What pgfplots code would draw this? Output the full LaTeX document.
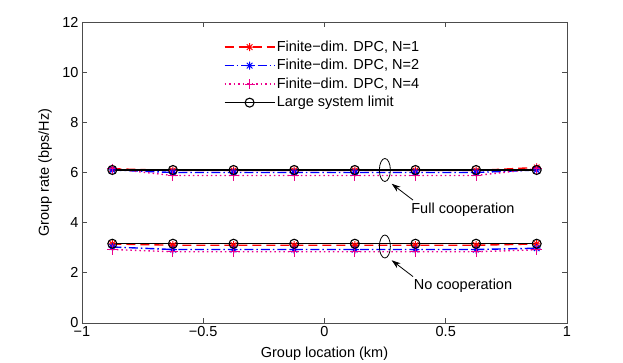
\documentclass[border=0pt]{standalone}
\usepackage{fontspec}
\setmainfont{Liberation Sans}
\usepackage{pgfplots}
\pgfplotsset{compat=1.18}
\usetikzlibrary{arrows.meta}

% MATLAB-like eight-spoke asterisk
\pgfdeclareplotmark{mstar}{%
  \pgfpathmoveto{\pgfqpoint{\pgfplotmarksize}{0pt}}%
  \pgfpathlineto{\pgfqpoint{-\pgfplotmarksize}{0pt}}%
  \pgfpathmoveto{\pgfqpoint{0pt}{\pgfplotmarksize}}%
  \pgfpathlineto{\pgfqpoint{0pt}{-\pgfplotmarksize}}%
  \pgfpathmoveto{\pgfqpoint{.707\pgfplotmarksize}{.707\pgfplotmarksize}}%
  \pgfpathlineto{\pgfqpoint{-.707\pgfplotmarksize}{-.707\pgfplotmarksize}}%
  \pgfpathmoveto{\pgfqpoint{-.707\pgfplotmarksize}{.707\pgfplotmarksize}}%
  \pgfpathlineto{\pgfqpoint{.707\pgfplotmarksize}{-.707\pgfplotmarksize}}%
  \pgfusepathqstroke}

\pgfplotsset{
  dpc1/.style={red, dash pattern=on 9pt off 5pt, mark=mstar, mark size=4pt,
    mark options={solid, line width=1pt}},
  dpc2/.style={blue, dash pattern=on 9pt off 3pt on 1.5pt off 3pt, mark=mstar, mark size=4pt,
    mark options={solid, line width=1pt}},
  dpc4/.style={magenta, dash pattern=on 1.5pt off 3pt, mark=+, mark size=5pt,
    mark options={solid, line width=1pt}},
  lsl/.style={black, solid, mark=o, mark size=4.5pt, mark options={line width=1.1pt}},
}

\begin{document}
\begin{tikzpicture}[font=\fontsize{14.5}{16}\selectfont]
\useasboundingbox (-82pt,-40pt) rectangle (541pt,323pt);
\begin{axis}[
  at={(0pt,0pt)}, anchor=south west,
  scale only axis, width=485pt, height=301pt,
  xmin=-1, xmax=1, ymin=0, ymax=12,
  xtick={-1,-0.5,0,0.5,1},
  xticklabels={−1,−0.5,0,0.5,1},
  ytick={0,2,4,6,8,10,12},
  /pgf/number format/assume math mode=true,
  tick align=inside, tick pos=both,
  major tick length=5pt,
  axis line style={black!70, line width=0.8pt},
  every tick/.style={black!70, line width=0.8pt},
  xlabel={Group location (km)},
  ylabel={Group rate (bps/Hz)},
  xlabel style={at={(axis description cs:0.5,-0.116)}, anchor=base},
  ylabel style={at={(axis description cs:-0.076,0.5)}, anchor=center},
  legend style={draw=none, fill=none, at={(axis description cs:0.286,0.952)},
    anchor=north west, row sep=1.5pt, font=\fontsize{14.5}{16}\selectfont,
    nodes={text height=11pt, text depth=3pt, inner sep=1.5pt}},
  legend cell align=left,
  legend image code/.code={%
    \path[draw=none, fill=none] (0pt,-4pt) rectangle (50pt,4pt);
    \draw[mark repeat=2,mark phase=2]
    plot coordinates {(0pt,0pt)(25pt,0pt)(50pt,0pt)};},
  every axis plot/.append style={line width=1.4pt},
]
% full cooperation
\addplot[dpc1] coordinates {
 (-0.875,6.15)(-0.625,6.08)(-0.375,6.08)(-0.125,6.08)(0.125,6.08)(0.375,6.08)(0.625,6.08)(0.875,6.2)
};
\addplot[dpc2] coordinates {
 (-0.875,6.1)(-0.625,6.0)(-0.375,6.0)(-0.125,6.0)(0.125,6.0)(0.375,6.0)(0.625,6.0)(0.875,6.1)
};
\addplot[dpc4] coordinates {
 (-0.875,6.15)(-0.625,5.88)(-0.375,5.88)(-0.125,5.88)(0.125,5.88)(0.375,5.88)(0.625,5.88)(0.875,6.15)
};
\addplot[lsl] coordinates {
 (-0.875,6.1)(-0.625,6.1)(-0.375,6.1)(-0.125,6.1)(0.125,6.1)(0.375,6.1)(0.625,6.1)(0.875,6.1)
};
% no cooperation
\addplot[dpc1, forget plot] coordinates {
 (-0.875,3.15)(-0.625,3.1)(-0.375,3.1)(-0.125,3.1)(0.125,3.1)(0.375,3.1)(0.625,3.1)(0.875,3.15)
};
\addplot[dpc2, forget plot] coordinates {
 (-0.875,3.03)(-0.625,2.93)(-0.375,2.93)(-0.125,2.93)(0.125,2.93)(0.375,2.93)(0.625,2.93)(0.875,2.98)
};
\addplot[dpc4, forget plot] coordinates {
 (-0.875,2.93)(-0.625,2.84)(-0.375,2.84)(-0.125,2.84)(0.125,2.84)(0.375,2.84)(0.625,2.84)(0.875,2.92)
};
\addplot[lsl, forget plot] coordinates {
 (-0.875,3.16)(-0.625,3.16)(-0.375,3.16)(-0.125,3.16)(0.125,3.16)(0.375,3.16)(0.625,3.16)(0.875,3.16)
};
\legend{Finite−dim. DPC{,} N=1, Finite−dim. DPC{,} N=2, Finite−dim. DPC{,} N=4, Large system limit}
% annotations
\draw[black, line width=0.8pt] (axis cs:0.249,6.1) ellipse [x radius=5.5pt, y radius=11.5pt];
\draw[black, line width=0.8pt] (axis cs:0.249,3.05) ellipse [x radius=5.5pt, y radius=11.5pt];
\draw[black, line width=0.8pt, -{Stealth[length=9pt,width=6pt]}] (axis cs:0.365,4.9) -- (axis cs:0.277,5.55);
\draw[black, line width=0.8pt, -{Stealth[length=9pt,width=6pt]}] (axis cs:0.365,1.85) -- (axis cs:0.277,2.5);
\node at (axis cs:0.571,4.5) {Full cooperation};
\node at (axis cs:0.571,1.47) {No cooperation};
\end{axis}
\end{tikzpicture}
\end{document}
